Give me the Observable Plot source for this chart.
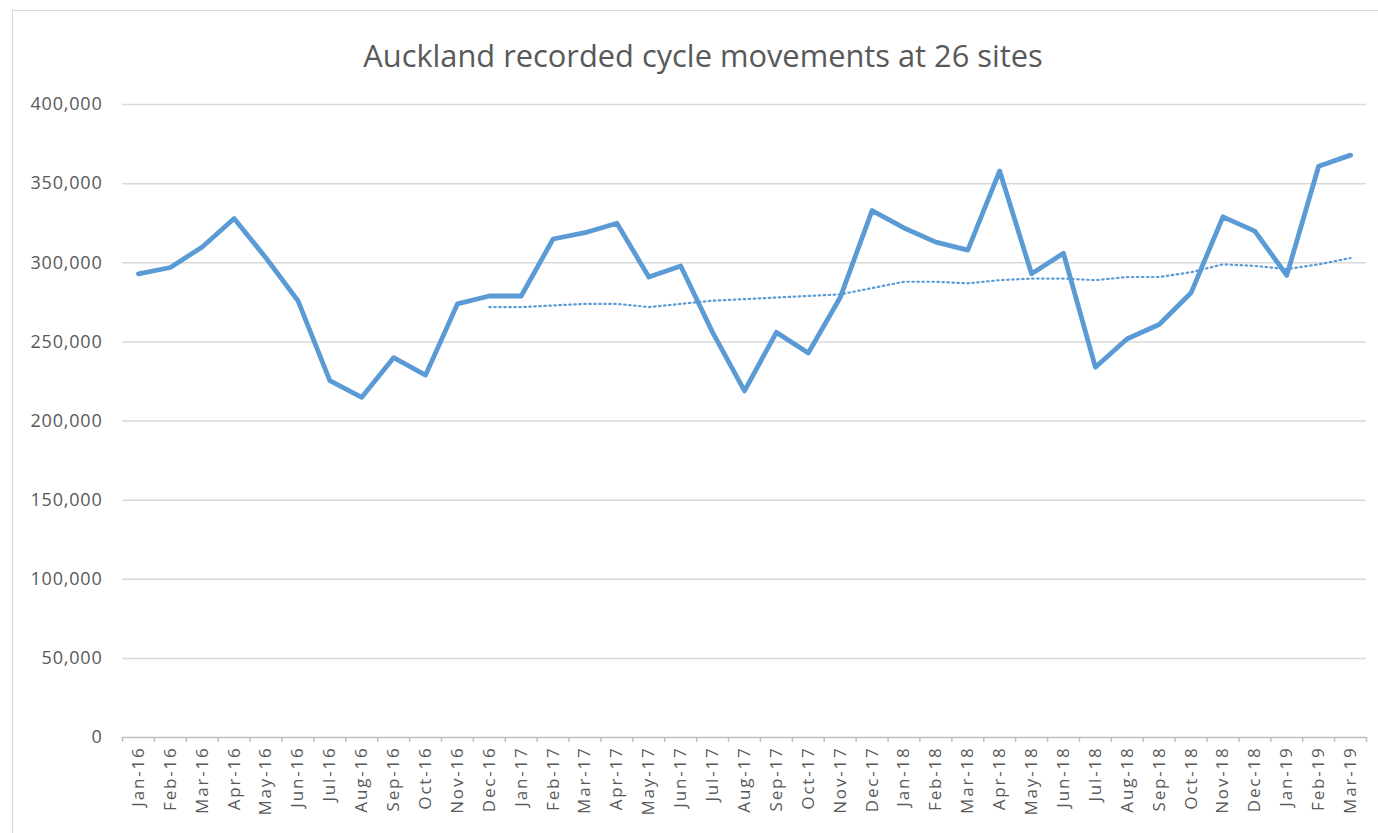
<!DOCTYPE html>
<html>
<head>
<meta charset="utf-8">
<script src="https://cdn.jsdelivr.net/npm/d3@7"></script>
<script src="https://cdn.jsdelivr.net/npm/@observablehq/plot@0.6"></script>
<style>
  html, body { margin: 0; padding: 0; background: #fff; }
  #wrap { position: relative; width: 1378px; height: 833px; overflow: hidden; }
  #frame { position: absolute; left: 12px; top: 10px; width: 1500px; height: 1000px; border: 1.5px solid #d9d9d9; box-sizing: border-box; }
  #title { position: absolute; left: 0; top: 0; width: 1406px; height: 110px; text-align: center;
           font-family: "Open Sans", sans-serif; font-size: 30.8px; color: #595959; line-height: 110px; }
  #chart { position: absolute; left: 0; top: 80px; }
  #chart g[aria-label="x-axis tick label"] text { letter-spacing: 1.8px; }
  #chart g[aria-label="y-axis tick label"] text { letter-spacing: 0.8px; }
</style>
</head>
<body>
<div id="wrap">
  <div id="frame"></div>
  <div id="title">Auckland recorded cycle movements at 26 sites</div>
  <div id="chart"></div>
</div>
<script>
const months = ["Jan-16","Feb-16","Mar-16","Apr-16","May-16","Jun-16","Jul-16","Aug-16","Sep-16","Oct-16","Nov-16","Dec-16",
  "Jan-17","Feb-17","Mar-17","Apr-17","May-17","Jun-17","Jul-17","Aug-17","Sep-17","Oct-17","Nov-17","Dec-17",
  "Jan-18","Feb-18","Mar-18","Apr-18","May-18","Jun-18","Jul-18","Aug-18","Sep-18","Oct-18","Nov-18","Dec-18",
  "Jan-19","Feb-19","Mar-19"];
const movements = [293000,297000,310000,328000,303000,276000,225500,215000,240000,229000,274000,279000,
  279000,315000,319000,325000,291000,298000,256000,219000,256000,243000,278000,333000,
  322000,313000,308000,358000,293000,306000,234000,252000,261000,281000,329000,320000,
  292000,361000,368000];
// 12-month moving average trendline (starts Dec-16)
const trendMonths = months.slice(11);
const trend = [272000,272000,273000,274000,274000,272000,274000,276000,277000,278000,279000,280000,284000,
  288000,288000,287000,289000,290000,290000,289000,291000,291000,294000,299000,298000,296000,299000,303000];
const yTicks = [0,50000,100000,150000,200000,250000,300000,350000,400000];

const series = months.map((m, i) => ({i, month: m, value: movements[i]}));
const trendData = trendMonths.map((m, k) => ({i: months.indexOf(m), value: trend[k]}));
const boundaries = d3.range(-0.5, months.length, 1);
const gridTicks = yTicks.filter(v => v > 0);

const blue = "#5B9BD5";
const fontFam = "'Open Sans', sans-serif";

const chart = Plot.plot({
  width: 1378,
  height: 753,
  marginLeft: 122,
  marginRight: 12,
  marginTop: 24,
  marginBottom: 96,
  style: {fontFamily: fontFam, color: "#595959", background: "transparent"},
  x: {type: "linear", domain: [-0.5, months.length - 0.5]},
  y: {domain: [0, 400000]},
  marks: [
    Plot.ruleY(gridTicks, {stroke: "#d9d9d9", strokeWidth: 1.5}),
    Plot.ruleY([0], {stroke: "#bfbfbf", strokeWidth: 1.5}),
    Plot.axisY({ticks: yTicks, tickSize: 0, tickPadding: 20, tickFormat: d3.format(","),
                fontSize: 18, label: null, stroke: "none"}),
    Plot.axisX({ticks: boundaries, tickSize: 5, tickFormat: () => "", stroke: "#bfbfbf", strokeWidth: 1.5, label: null}),
    Plot.axisX({ticks: d3.range(months.length), tickSize: 0, tickPadding: 9, tickRotate: -90,
                tickFormat: i => months[i], fontSize: 17, label: null}),
    Plot.line(trendData, {x: "i", y: "value", stroke: blue, strokeWidth: 2.2, strokeDasharray: "1.5 3.5"}),
    Plot.line(series, {x: "i", y: "value", stroke: blue, strokeWidth: 4.8, strokeLinejoin: "round", strokeLinecap: "round"})
  ]
});
document.getElementById("chart").appendChild(chart);
</script>
</body>
</html>
